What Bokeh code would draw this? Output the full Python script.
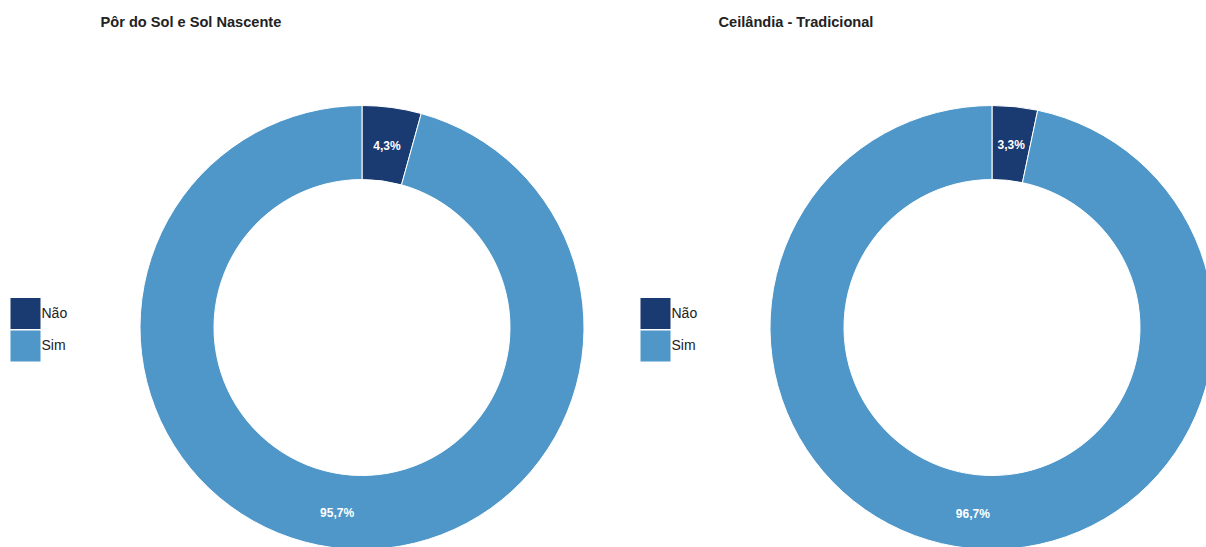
import numpy as np
from bokeh.plotting import figure
from bokeh.models import ColumnDataSource, Range1d, Label
from bokeh.layouts import row
from bokeh.embed import file_html
from bokeh.resources import INLINE
from bokeh.core.properties import value

categories = ["Não", "Sim"]
colors = ["#1a3b72", "#4f97c9"]
titles = ["Pôr do Sol e Sol Nascente", "Ceilândia - Tradicional"]
values_por_do_sol = [4.3, 95.7]
values_ceilandia = [3.3, 96.7]
labels_por_do_sol = ["4,3%", "95,7%"]
labels_ceilandia = ["3,3%", "96,7%"]

series = [(values_por_do_sol, labels_por_do_sol), (values_ceilandia, labels_ceilandia)]

FONT = "Liberation Sans"
PANEL_W = 630
TOTAL_W = 1206
H = 547
R_OUT = 222
R_IN = 148
R_LAB = (R_OUT + R_IN) / 2
SW = 30       # legend swatch width
SH = 31       # legend swatch height
SGAP = 1.5    # legend swatch gap


def make_panel(i, vals, labs, title):
    left = i * PANEL_W
    w = PANEL_W if i == 0 else TOTAL_W - PANEL_W
    p = figure(width=w, height=H, output_backend="svg", toolbar_location=None,
               x_range=Range1d(left, left + w), y_range=Range1d(-H, 0),
               min_border=0, outline_line_color=None, tools="")
    p.axis.visible = False
    p.xgrid.visible = False
    p.ygrid.visible = False
    p.background_fill_color = "white"
    p.border_fill_color = "white"

    cx = 361.5 + left
    cy = -327
    frac = np.array(vals) / np.sum(vals)
    cum = np.concatenate([[0], np.cumsum(frac)])
    start = np.pi / 2 - cum[:-1] * 2 * np.pi
    end = np.pi / 2 - cum[1:] * 2 * np.pi
    mid = (start + end) / 2
    n = len(vals)
    leg_top = -297.5
    src = ColumnDataSource(dict(
        cat=categories, color=colors, start=start, end=end,
        x=[cx] * n, y=[cy] * n,
        lx=cx + R_LAB * np.cos(mid), ly=cy + R_LAB * np.sin(mid), lab=labs,
        sx=[left + 10 + SW / 2] * n,
        sy=[leg_top - SH / 2 - k * (SH + SGAP) for k in range(n)],
        tx=[left + 41] * n,
    ))
    p.annular_wedge(x="x", y="y", inner_radius=R_IN, outer_radius=R_OUT,
                    start_angle="start", end_angle="end", direction="clock",
                    fill_color="color", line_color="white", line_width=1, source=src)
    p.text(x="lx", y="ly", text="lab", source=src, text_color="white",
           text_font=value(FONT), text_font_style="bold", text_font_size="12px",
           text_align="center", text_baseline="middle", y_offset=2)

    # legend
    p.rect(x="sx", y="sy", width=SW, height=SH, fill_color="color",
           line_color=None, source=src)
    p.text(x="tx", y="sy", text="cat", source=src, text_color="#222222",
           text_font=value(FONT), text_font_size="14px",
           text_align="left", text_baseline="middle", y_offset=-1)

    p.add_layout(Label(x=left + (100 if i == 0 else 88), y=-21, text=title, text_font=FONT,
                       text_font_style="bold", text_font_size="14.6px",
                       text_color="#222222", text_baseline="middle"))
    return p


panels = [make_panel(i, v, l, t) for i, ((v, l), t) in enumerate(zip(series, titles))]
layout = row(*panels, spacing=0)
open("out.html", "w").write(file_html(layout, INLINE))
